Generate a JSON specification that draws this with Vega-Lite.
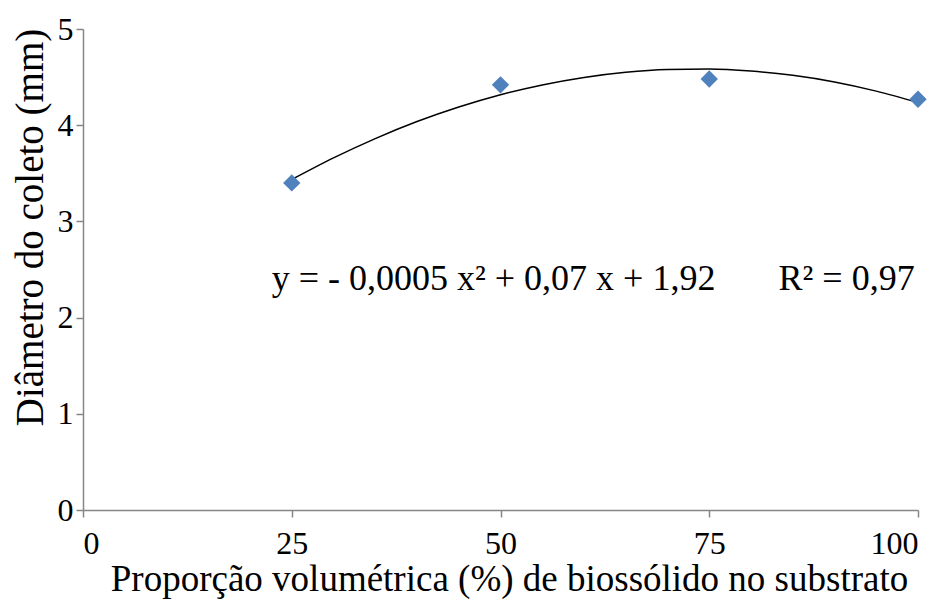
{
  "$schema": "https://vega.github.io/schema/vega-lite/v6.json",
  "width": 835,
  "height": 481,
  "autosize": "none",
  "padding": {"left": 83, "top": 29, "right": 32, "bottom": 93},
  "background": "white",
  "config": {
    "view": {"stroke": null},
    "font": "Times New Roman, Liberation Serif, serif",
    "text": {"font": "Times New Roman, Liberation Serif, serif"},
    "axis": {"grid": false, "domainColor": "#868686", "tickColor": "#868686", "labelColor": "#000", "titleColor": "#000", "labelFont": "Times New Roman, Liberation Serif, serif", "titleFont": "Times New Roman, Liberation Serif, serif", "titleFontWeight": "normal", "labelFontSize": 32, "titleFontSize": 37, "tickSize": 7, "domainWidth": 1.5, "tickWidth": 1.5}
  },
  "datasets": {
    "obs": [
      {"x": 25, "y": 3.40},
      {"x": 50, "y": 4.42},
      {"x": 75, "y": 4.48},
      {"x": 100, "y": 4.27}
    ],
    "fit": [
      {"x": 25, "y": 3.435},
      {"x": 30, "y": 3.660},
      {"x": 35, "y": 3.861},
      {"x": 40, "y": 4.038},
      {"x": 45, "y": 4.189},
      {"x": 50, "y": 4.317},
      {"x": 55, "y": 4.419},
      {"x": 60, "y": 4.497},
      {"x": 65, "y": 4.551},
      {"x": 70, "y": 4.579},
      {"x": 75, "y": 4.584},
      {"x": 80, "y": 4.563},
      {"x": 85, "y": 4.518},
      {"x": 90, "y": 4.449},
      {"x": 95, "y": 4.354},
      {"x": 100, "y": 4.236}
    ],
    "labels": [
      {"label": "y = - 0,0005 x² + 0,07 x + 1,92", "px": 22.6},
      {"label": "R² = 0,97", "px": 83.3}
    ]
  },
  "layer": [
    {
      "data": {"name": "fit"},
      "mark": {"type": "line", "color": "#000000", "strokeWidth": 1.5, "interpolate": "monotone"},
      "encoding": {
        "x": {"field": "x", "type": "quantitative", "scale": {"domain": [0, 100], "nice": false},
          "axis": {"values": [0, 25, 50, 75, 100], "format": "d", "title": "Proporção volumétrica (%) de biossólido no substrato", "labelPadding": 11, "titlePadding": 2, "titleX": 426, "labelBaseline": "top", "labelOverlap": false}},
        "y": {"field": "y", "type": "quantitative", "scale": {"domain": [0, 5], "nice": false},
          "axis": {"values": [0, 1, 2, 3, 4, 5], "format": "d", "title": "Diâmetro do coleto (mm)", "titleFontSize": 39, "titleY": 198, "labelPadding": 3, "titlePadding": 7}}
      }
    },
    {
      "data": {"name": "obs"},
      "mark": {"type": "point", "shape": "diamond", "filled": true, "size": 300, "color": "#4F81BD", "opacity": 1},
      "encoding": {
        "x": {"field": "x", "type": "quantitative"},
        "y": {"field": "y", "type": "quantitative"}
      }
    },
    {
      "data": {"name": "labels"},
      "mark": {"type": "text", "align": "left", "baseline": "middle", "fontSize": 36, "color": "#000"},
      "encoding": {
        "x": {"field": "px", "type": "quantitative"},
        "y": {"datum": 2.4},
        "text": {"field": "label"}
      }
    }
  ]
}
